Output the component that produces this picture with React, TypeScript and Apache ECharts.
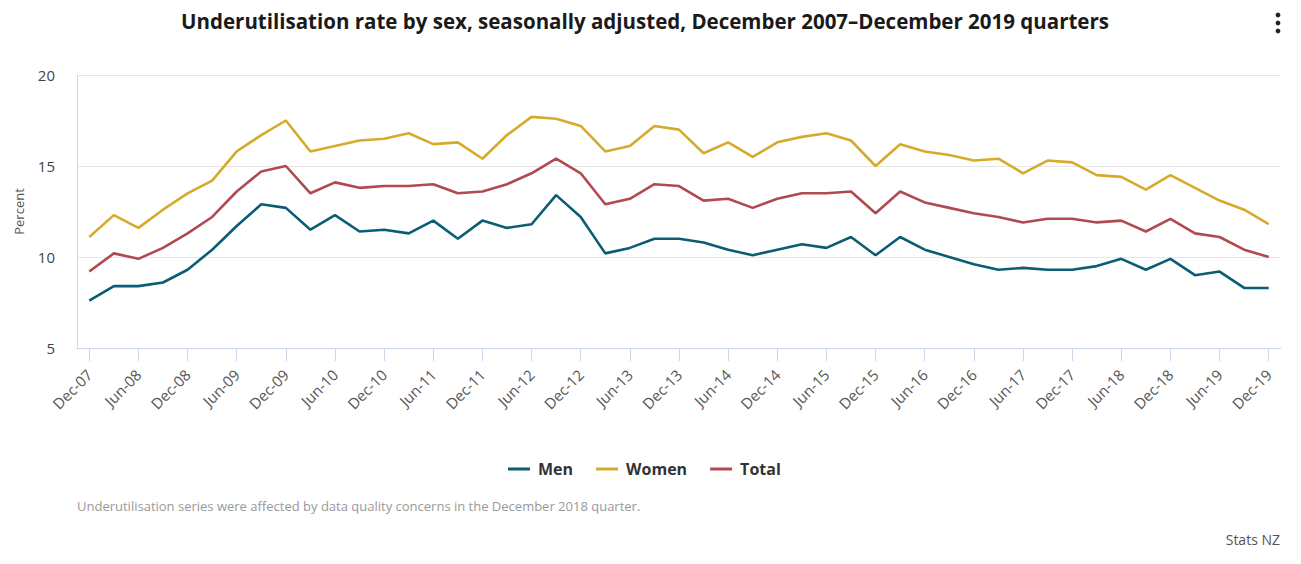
import React, { useEffect, useRef } from "react";
import * as echarts from "echarts";

const years = ["07", "08", "09", "10", "11", "12", "13", "14", "15", "16", "17", "18", "19"];
const quarterMonths = ["Mar", "Jun", "Sep", "Dec"];
const categories: string[] = ["Dec-07"];
for (let y = 1; y < years.length; y++) {
  for (const m of quarterMonths) categories.push(`${m}-${years[y]}`);
}

const men = [
  7.6, 8.4, 8.4, 8.6, 9.3, 10.4, 11.7, 12.9, 12.7, 11.5, 12.3, 11.4, 11.5, 11.3, 12.0, 11.0,
  12.0, 11.6, 11.8, 13.4, 12.2, 10.2, 10.5, 11.0, 11.0, 10.8, 10.4, 10.1, 10.4, 10.7, 10.5, 11.1,
  10.1, 11.1, 10.4, 10.0, 9.6, 9.3, 9.4, 9.3, 9.3, 9.5, 9.9, 9.3, 9.9, 9.0, 9.2, 8.3, 8.3,
];
const women = [
  11.1, 12.3, 11.6, 12.6, 13.5, 14.2, 15.8, 16.7, 17.5, 15.8, 16.1, 16.4, 16.5, 16.8, 16.2, 16.3,
  15.4, 16.7, 17.7, 17.6, 17.2, 15.8, 16.1, 17.2, 17.0, 15.7, 16.3, 15.5, 16.3, 16.6, 16.8, 16.4,
  15.0, 16.2, 15.8, 15.6, 15.3, 15.4, 14.6, 15.3, 15.2, 14.5, 14.4, 13.7, 14.5, 13.8, 13.1, 12.6, 11.8,
];
const total = [
  9.2, 10.2, 9.9, 10.5, 11.3, 12.2, 13.6, 14.7, 15.0, 13.5, 14.1, 13.8, 13.9, 13.9, 14.0, 13.5,
  13.6, 14.0, 14.6, 15.4, 14.6, 12.9, 13.2, 14.0, 13.9, 13.1, 13.2, 12.7, 13.2, 13.5, 13.5, 13.6,
  12.4, 13.6, 13.0, 12.7, 12.4, 12.2, 11.9, 12.1, 12.1, 11.9, 12.0, 11.4, 12.1, 11.3, 11.1, 10.4, 10.0,
];
const yTicks = { min: 5, max: 20, interval: 5 };

const FONT = "'Open Sans', sans-serif";
const COLORS = { men: "#0b5d75", women: "#d6ab2c", total: "#b14a50" };

export default function App() {
  const ref = useRef<HTMLDivElement>(null);
  useEffect(() => {
    if (!ref.current) return;
    const chart = echarts.init(ref.current, undefined, { renderer: "svg" });
    const mk = (name: string, data: number[], color: string) => ({
      name,
      type: "line",
      data,
      symbol: "none",
      lineStyle: { color, width: 2.6 },
      itemStyle: { color },
    });
    chart.setOption({
      animation: false,
      textStyle: { fontFamily: FONT },
      title: {
        text: "Underutilisation rate by sex, seasonally adjusted, December 2007–December 2019 quarters",
        left: 640,
        textAlign: "center",
        top: 5,
        textStyle: { fontFamily: FONT, fontSize: 20.5, fontWeight: "bold", color: "#1a1a1a" },
      },
      legend: {
        top: 456,
        left: 503,
        itemWidth: 22,
        itemHeight: 3,
        itemGap: 23,
        icon: "rect",
        textStyle: { fontFamily: FONT, fontSize: 16, fontWeight: "bold", color: "#333", padding: [0, 0, 0, 3] },
        data: ["Men", "Women", "Total"],
      },
      grid: { left: 77, right: 20, top: 75, bottom: 216, containLabel: false },
      xAxis: {
        type: "category",
        data: categories,
        boundaryGap: true,
        axisLine: { show: true, lineStyle: { color: "#ccd6eb", width: 1 } },
        axisTick: { show: true, alignWithLabel: true, interval: 1, length: 13, lineStyle: { color: "#ccd6eb" } },
        axisLabel: {
          interval: 1,
          rotate: 45,
          margin: 24,
          fontSize: 15,
          color: "#555",
          fontFamily: FONT,
        },
        splitLine: { show: false },
      },
      yAxis: {
        type: "value",
        min: yTicks.min,
        max: yTicks.max,
        interval: yTicks.interval,
        name: "Percent",
        nameLocation: "middle",
        nameGap: 52,
        nameRotate: 90,
        nameTextStyle: { fontSize: 13, color: "#555", fontFamily: FONT },
        axisLine: { show: true, lineStyle: { color: "#ccd6eb", width: 1 } },
        axisTick: { show: false },
        axisLabel: { fontSize: 15, color: "#444", margin: 22, fontFamily: FONT },
        splitLine: { show: true, lineStyle: { color: "#e6e6e6", width: 1 } },
      },
      series: [
        mk("Men", men, COLORS.men),
        mk("Women", women, COLORS.women),
        mk("Total", total, COLORS.total),
      ],
      graphic: [
        {
          type: "text",
          left: 77,
          top: 499,
          style: {
            text: "Underutilisation series were affected by data quality concerns in the December 2018 quarter.",
            fontSize: 13,
            fill: "#999",
            fontFamily: FONT,
          },
        },
        {
          type: "text",
          right: 21,
          top: 532,
          style: { text: "Stats NZ", fontSize: 14, fill: "#555", fontFamily: FONT },
        },
        { type: "circle", shape: { cx: 1278, cy: 15, r: 2.4 }, style: { fill: "#222" } },
        { type: "circle", shape: { cx: 1278, cy: 23, r: 2.4 }, style: { fill: "#222" } },
        { type: "circle", shape: { cx: 1278, cy: 31, r: 2.4 }, style: { fill: "#222" } },
      ],
    });
    return () => chart.dispose();
  }, []);
  return (
    <div
      ref={ref}
      style={{ position: "fixed", left: 0, top: 0, width: 1301, height: 564, background: "#fff" }}
    />
  );
}
